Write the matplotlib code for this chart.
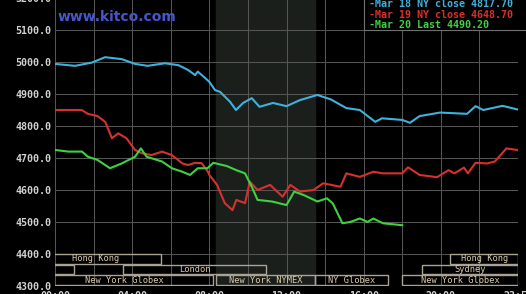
import matplotlib
matplotlib.use("Agg")
import matplotlib.pyplot as plt
from matplotlib.patches import Rectangle

# hours since midnight (NY time) and prices
mar18_h = [0, 1.04, 1.9, 2.6, 3.46, 4.15, 4.8, 5.7, 6.4, 6.9, 7.26, 7.4, 7.8, 8.0, 8.3,
           8.55, 9.07, 9.38, 9.75, 10.2, 10.6, 11.3, 12.0, 12.7, 13.6, 14.3, 15.1, 15.8,
           16.6, 16.95, 18.0, 18.4, 18.9, 19.96, 21.36, 21.8, 22.2, 23.2, 23.95]
mar18_v = [4994, 4988, 4998, 5015, 5009, 4994, 4988, 4996, 4990, 4975, 4959, 4970, 4949, 4938, 4912,
           4907, 4876, 4850, 4872, 4887, 4860, 4872, 4862, 4881, 4897, 4883, 4856, 4850,
           4813, 4824, 4819, 4810, 4831, 4842, 4838, 4862, 4850, 4863, 4852]

mar19_h = [0, 1.38, 1.7, 2.2, 2.6, 2.95, 3.28, 3.7, 4.15, 4.5, 5.0, 5.55, 6.06, 6.6, 6.9,
           7.26, 7.6, 7.93, 8.0, 8.4, 8.8, 9.2, 9.4, 9.85, 10.1, 10.5, 11.15, 11.8, 12.2,
           12.7, 13.4, 13.9, 14.8, 15.1, 15.8, 16.5, 17.0, 18.0, 18.3, 18.9, 19.8, 20.4,
           20.7, 21.2, 21.4, 21.8, 22.4, 22.8, 23.4, 23.95]
mar19_v = [4850, 4850, 4838, 4831, 4813, 4762, 4777, 4762, 4725, 4715, 4709, 4720, 4709, 4683, 4678,
           4685, 4684, 4657, 4647, 4616, 4559, 4537, 4569, 4559, 4626, 4600, 4616, 4579, 4616,
           4595, 4600, 4621, 4610, 4652, 4641, 4657, 4652, 4652, 4671, 4647, 4640, 4662,
           4652, 4670, 4652, 4685, 4683, 4689, 4730, 4725]

mar20_h = [0, 0.7, 1.4, 1.7, 2.2, 2.85, 3.46, 4.15, 4.45, 4.75, 5.55, 6.06, 6.6, 7.0, 7.4,
           7.9, 8.2, 8.9, 9.4, 9.85, 10.2, 10.5, 11.25, 12.0, 12.4, 12.9, 13.6, 14.1, 14.4,
           14.9, 15.3, 15.8, 16.2, 16.5, 17.0, 18.0]
mar20_v = [4725, 4720, 4720, 4704, 4694, 4668, 4683, 4704, 4730, 4704, 4689, 4668, 4657, 4647, 4668,
           4668, 4685, 4675, 4662, 4652, 4610, 4569, 4564, 4553, 4595, 4584, 4564, 4574, 4558,
           4496, 4500, 4511, 4500, 4511, 4496, 4490]

legend_labels = ["Mar 18 NY close 4817.70", "Mar 19 NY close 4648.70", "Mar 20 Last 4490.20"]
colors = ["#3fb2dc", "#d8302c", "#40d040"]

# trading sessions: name, start hour, end hour, row (0 = bottom)
sess_names = ["New York Globex", "New York NYMEX", "NY Globex", "New York Globex",
              "", "London", "Sydney",
              "Hong Kong", "Hong Kong"]
sess_start = [-1.0, 8.33, 13.5, 18.0, -3.0, 3.5, 19.0, -1.25, 20.5]
sess_end = [8.2, 13.5, 17.25, 24.0, 1.0, 10.95, 24.0, 5.5, 24.0]
sess_row = [0, 0, 0, 0, 1, 1, 1, 2, 2]

xtick_h = [0, 4, 8, 12, 16, 20, 24]
xtick_lbl = ["00:00", "04:00", "08:00", "12:00", "16:00", "20:00", "23:59"]
ytick_v = [4300, 4400, 4500, 4600, 4700, 4800, 4900, 5000, 5100, 5200]

W, H = 526, 294
fig = plt.figure(figsize=(W / 100, H / 100), dpi=100, facecolor="black")
ax = fig.add_axes([55 / W, 8 / H, 463 / W, 288 / H], facecolor="black")
ax.set_xlim(0, 24)
ax.set_ylim(4300, 5200)

# NYMEX pit hours shading
ax.axvspan(8.33, 13.5, color="#1b1f1b", zorder=0)

for s in ax.spines.values():
    s.set_visible(False)
ax.set_xticks(range(0, 25, 2))
ax.set_xticklabels([xtick_lbl[xtick_h.index(h)] if h in xtick_h else "" for h in range(0, 25, 2)])
ax.set_yticks(ytick_v)
ax.set_yticklabels(["%.1f" % v for v in ytick_v])
ax.grid(True, color="#555555", linewidth=0.75, zorder=1)
ax.tick_params(length=0, colors="#d0d0d0", labelsize=7.2)
ax.tick_params(axis="y", pad=2.5)
ax.tick_params(axis="x", pad=3.5)
for lbl in ax.get_xticklabels() + ax.get_yticklabels():
    lbl.set_fontfamily("DejaVu Sans Mono")
    lbl.set_fontweight("bold")

ax.plot(mar18_h, mar18_v, color=colors[0], lw=1.5, zorder=3)
ax.plot(mar19_h, mar19_v, color=colors[1], lw=1.5, zorder=3)
ax.plot(mar20_h, mar20_v, color=colors[2], lw=1.5, zorder=3)

# session boxes
row_h = 31
for name, a, b, r in zip(sess_names, sess_start, sess_end, sess_row):
    y0 = 4303 + r * 33
    ax.add_patch(Rectangle((a, y0), b - a, row_h, fill=False, edgecolor="#aaa292",
                           lw=1.0, zorder=4, clip_on=True))
    if name:
        ax.text((a + b) / 2, y0 + row_h / 2, name, color="#dacbad", fontsize=6.2,
                family="DejaVu Sans Mono", ha="center", va="center", zorder=5)

# site mark
fig.text(58 / W, 1 - 17 / H, "www.kitco.com", color="#4656cc", fontsize=10,
         fontweight="bold", ha="left", va="center")

# legend box top right
fig.patches.append(Rectangle((364 / W, 1 - 30 / H), 200 / W, 40 / H, transform=fig.transFigure,
                             facecolor="black", edgecolor="#707070", lw=0.8, zorder=10))
for i, (txt, c) in enumerate(zip(legend_labels, colors)):
    fig.text(369 / W, 1 - (4 + i * 10.5) / H, "-" + txt, color=c, fontsize=7.2,
             family="DejaVu Sans Mono", fontweight="bold", ha="left", va="center", zorder=11)

fig.savefig("out.png", dpi=100, facecolor="black")
